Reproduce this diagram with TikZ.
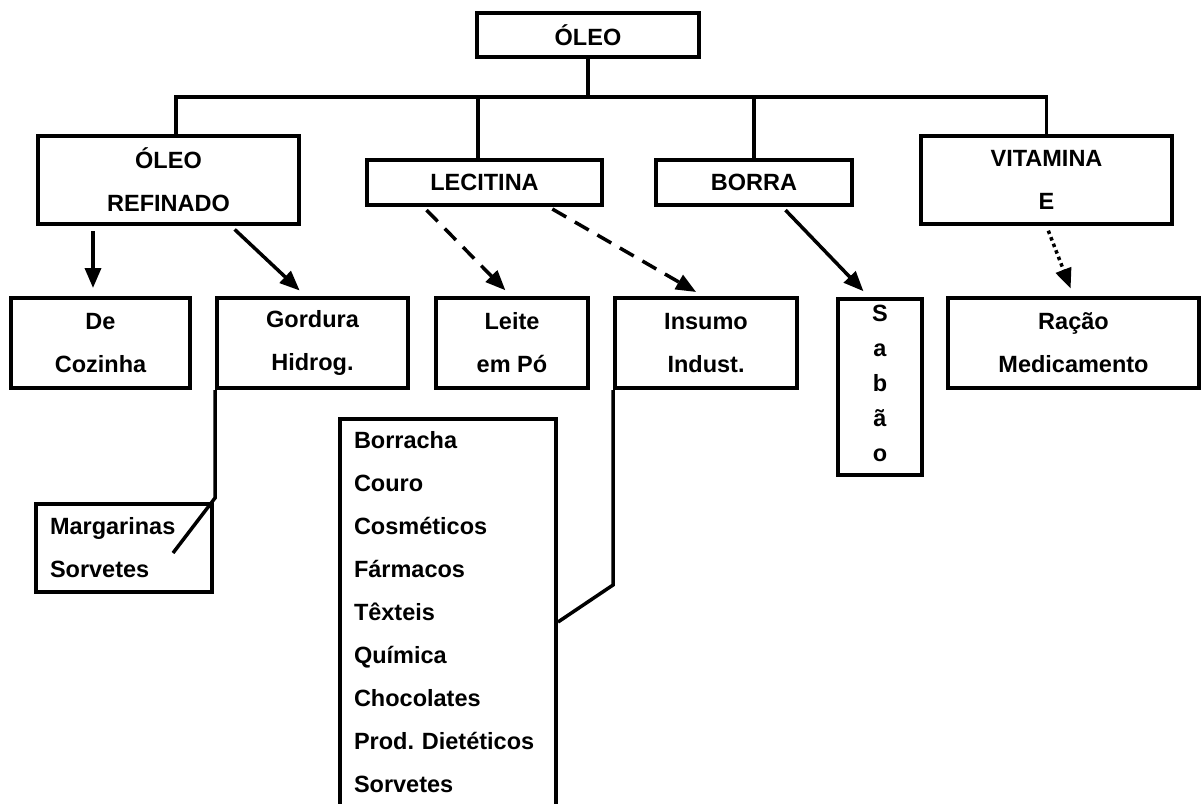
\documentclass[tikz,border=0pt]{standalone}
\usepackage{fontspec}
\setmainfont{Liberation Sans}
\usetikzlibrary{arrows.meta}
\frenchspacing
\begin{document}
\begin{tikzpicture}[x=1pt, y=-1pt, font=\bfseries\fontsize{23.5}{43}\selectfont,
  box/.style={draw, line width=4pt, inner sep=0pt, align=center},
  link/.style={line width=3.5pt},
  arrow/.style={link, shorten <=5pt, shorten >=8pt, -{Triangle[length=20pt, width=16pt]}},
  dashedarrow/.style={arrow, dash pattern=on 16pt off 10pt},
  dottedarrow/.style={arrow, dash pattern=on 3.5pt off 3.5pt}]
  \useasboundingbox (0,0) rectangle (1201,803);
  \clip (0,0) rectangle (1201,803);
  \node[box, minimum width=222pt, minimum height=44pt] (oleo) at (588,35) {ÓLEO};
  \node[box, minimum width=261pt, minimum height=88pt] (refinado) at (168.5,180) {ÓLEO\\REFINADO};
  \node[box, minimum width=235pt, minimum height=45pt] (lecitina) at (484.5,182) {LECITINA};
  \node[box, minimum width=196pt, minimum height=45pt] (borra) at (754,182) {BORRA};
  \node[box, minimum width=251pt, minimum height=88pt] (vitamina) at (1046.5,180) {VITAMINA\\E};
  \node[box, minimum width=179pt, minimum height=90pt] (cozinha) at (100.5,343) {De\\Cozinha};
  \node[box, minimum width=191pt, minimum height=90pt] (gordura) at (312.5,343) {Gordura\\Hidrog.};
  \node[box, minimum width=152pt, minimum height=90pt] (leite) at (512,343) {Leite\\em Pó};
  \node[box, minimum width=182pt, minimum height=90pt] (insumo) at (706,343) {Insumo\\Indust.};
  \node[box, minimum width=84pt, minimum height=176pt, font=\bfseries\fontsize{23.5}{35}\selectfont, text depth=7pt] (sabao) at (880,387) {S\\a\\b\\ã\\o};
  \node[box, minimum width=251pt, minimum height=90pt] (racao) at (1073.5,343) {Ração\\Medicamento};
  \node[box, align=left, text width=148pt, inner xsep=14pt, minimum height=88pt] (margarinas) at (124,548) {Margarinas\\Sorvetes};
  \node[box, align=left, text width=188pt, inner xsep=14pt, inner ysep=12.5pt, anchor=north west] (lista) at (338,417)
    {Borracha\\Couro\\Cosméticos\\Fármacos\\Têxteis\\Química\\Chocolates\\Prod. Dietéticos\\Sorvetes\rule[-10pt]{0pt}{10pt}};
  \coordinate (bus) at (588,97);
  \draw[link] (oleo) -- (bus);
  \draw[link] ([xshift=7.5pt]refinado.north) |- (bus) -| (vitamina.north);
  \draw[link] ([xshift=-6.5pt]lecitina.north) -- ([xshift=-6.5pt]lecitina.north |- bus);
  \draw[link] (borra.north) -- (borra.north |- bus);
  \draw[arrow] ([xshift=-75.5pt]refinado.south) -- ([xshift=-7.5pt]cozinha.north);
  \draw[arrow] ([xshift=62.5pt]refinado.south) -- ([xshift=-7pt]gordura.north);
  \draw[dashedarrow] ([xshift=-61.5pt]lecitina.south) -- ([xshift=-1pt]leite.north);
  \draw[dashedarrow] ([xshift=63.5pt]lecitina.south) -- ([xshift=-3pt]insumo.north);
  \draw[arrow] ([xshift=28pt]borra.south) -- ([xshift=-11pt]sabao.north);
  \draw[dottedarrow] (vitamina.south) -- (racao.north);
  \draw[link] (gordura.south west) -- ([yshift=4pt]gordura.south west |- margarinas.north) -- ([xshift=49pt, yshift=-5pt]margarinas.center);
  \draw[link] (insumo.south west) -- ++(0,195) -- ([yshift=-5pt]lista.east);
\end{tikzpicture}
\end{document}
